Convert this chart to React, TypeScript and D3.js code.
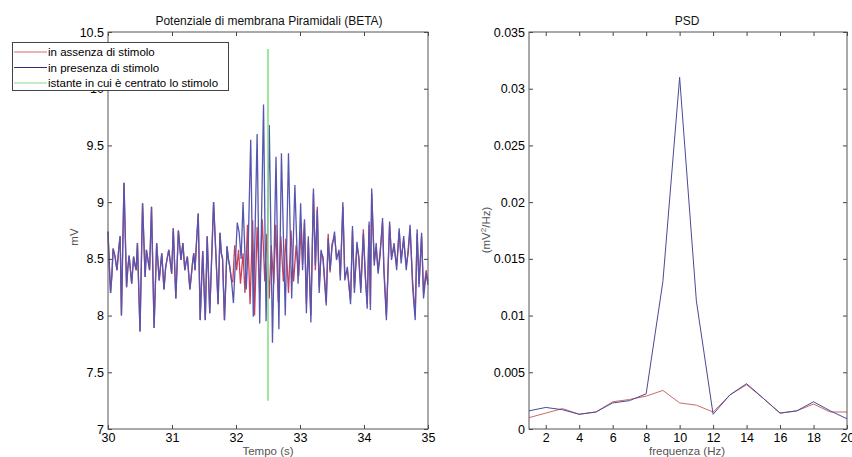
import React, { useRef, useEffect } from 'react';
import * as d3 from 'd3';

// membrane potential, turning points (s, mV)
const tPre = [30.0, 30.02, 30.04, 30.06, 30.08, 30.11, 30.14, 30.17, 30.19, 30.21, 30.25, 30.29, 30.31, 30.33,
  30.37, 30.4, 30.42, 30.44, 30.46, 30.5, 30.54, 30.58, 30.6, 30.63, 30.65, 30.68,
  30.72, 30.76, 30.8, 30.84, 30.875, 30.9, 30.92, 30.95, 30.995, 31.02, 31.06,
  31.1, 31.14, 31.17, 31.2, 31.22, 31.24, 31.28, 31.32, 31.34, 31.36, 31.38, 31.41,
  31.44, 31.48, 31.52, 31.55, 31.59, 31.65, 31.72, 31.75, 31.77, 31.79, 31.82,
  31.86, 31.88, 31.9, 31.93];
const vPre = [8.74, 8.45, 8.2, 8.35, 8.59, 8.52, 8.4, 8.6, 8.7, 8.0, 9.17, 8.25, 8.42, 8.53,
  8.28, 8.52, 8.45, 8.4, 8.64, 7.86, 8.99, 8.34, 8.58, 8.47, 8.4, 8.96,
  7.89, 8.64, 8.31, 8.55, 8.23, 8.42, 8.49, 8.58, 8.37, 8.77, 8.15,
  8.75, 8.49, 8.64, 8.4, 8.47, 8.52, 8.23, 8.46, 8.55, 8.4, 8.62, 8.9,
  7.96, 8.57, 7.96, 8.7, 8.02, 9.0, 8.1, 8.73, 8.55, 8.5, 7.96,
  8.61, 8.5, 8.44, 8.31];

const tBurst = [31.96, 32.02, 32.05, 32.08, 32.11, 32.16, 32.19, 32.23, 32.27, 32.33,
  32.37, 32.43, 32.47, 32.52, 32.57, 32.625, 32.67, 32.71, 32.77, 32.82,
  32.87, 32.92, 32.97, 33.01];
const vBurstStim = [8.11, 8.82, 8.73, 8.5, 9.0, 8.23, 8.6, 9.55, 7.99, 9.6,
  7.93, 9.86, 7.95, 9.68, 7.76, 9.4, 7.88, 9.43, 8.0, 9.43,
  8.15, 9.15, 8.28, 8.99];

const tBurstRest = [31.95, 31.98, 32.01, 32.04, 32.07, 32.11, 32.14, 32.18, 32.22, 32.26,
  32.29, 32.33, 32.37, 32.41, 32.45, 32.48, 32.52, 32.55, 32.59, 32.62,
  32.66, 32.7, 32.74, 32.78, 32.82, 32.86, 32.9, 32.94, 32.98, 33.02];
const vBurstRest = [8.3, 8.62, 8.4, 8.58, 8.28, 8.55, 8.2, 8.8, 8.1, 8.84,
  8.0, 8.78, 8.2, 8.85, 8.3, 8.72, 8.15, 8.62, 8.28, 8.8,
  8.12, 8.7, 8.3, 8.68, 8.2, 8.75, 8.3, 8.62, 8.35, 8.8];

const tPost = [33.04, 33.07, 33.1, 33.13, 33.17, 33.21, 33.24, 33.27, 33.3, 33.33,
  33.36, 33.41, 33.44, 33.47, 33.5, 33.54, 33.57, 33.61, 33.63, 33.67,
  33.7, 33.74, 33.79, 33.82, 33.85, 33.89, 33.92, 33.95, 33.99, 34.02,
  34.05, 34.08, 34.1, 34.12, 34.16, 34.19, 34.22, 34.25, 34.29, 34.31,
  34.35, 34.4, 34.43, 34.47, 34.51, 34.55, 34.58, 34.62, 34.66, 34.69,
  34.72, 34.76, 34.8, 34.83, 34.86, 34.9, 34.93, 34.97, 35.0];
const vPostStim = [8.4, 8.85, 8.02, 8.7, 7.94, 9.12, 8.44, 8.93, 8.2, 8.58,
  8.49, 8.09, 8.68, 8.4, 8.6, 8.74, 8.49, 8.58, 8.31, 9.0,
  8.31, 8.43, 8.1, 8.79, 8.2, 8.65, 8.49, 8.2, 8.72, 8.37,
  8.06, 8.83, 8.05, 9.12, 8.44, 8.64, 8.37, 8.52, 8.86, 8.4,
  7.96, 8.83, 8.49, 8.64, 8.4, 8.77, 8.46, 8.7, 8.4, 8.58,
  8.8, 8.25, 7.96, 8.76, 8.25, 8.73, 8.15, 8.37, 8.27];
const vPostRest = [8.45, 8.82, 8.1, 8.66, 8.0, 9.08, 8.4, 8.96, 8.25, 8.55,
  8.52, 8.12, 8.72, 8.38, 8.63, 8.7, 8.52, 8.55, 8.35, 8.96,
  8.35, 8.4, 8.14, 8.75, 8.24, 8.62, 8.52, 8.24, 8.76, 8.34,
  8.1, 8.8, 8.1, 9.08, 8.48, 8.6, 8.4, 8.55, 8.82, 8.44,
  8.0, 8.8, 8.52, 8.6, 8.44, 8.74, 8.5, 8.66, 8.44, 8.55,
  8.76, 8.3, 8.0, 8.72, 8.28, 8.7, 8.2, 8.4, 8.3];

const stimTime = 32.5;
const stimRange = [7.25, 10.35];

// PSD
const freqs = [1, 2, 3, 4, 5, 6, 7, 8, 9, 10, 11, 12, 13, 14, 15, 16, 17, 18, 19, 20];
const psdRest = [0.001, 0.0014, 0.0018, 0.0013, 0.0015, 0.0024, 0.0026, 0.0029, 0.0034, 0.0023,
  0.0021, 0.0015, 0.003, 0.0039, 0.0027, 0.0014, 0.0016, 0.0022, 0.0015, 0.0015];
const psdStim = [0.0016, 0.0019, 0.0017, 0.0013, 0.0015, 0.0023, 0.0025, 0.0031, 0.013, 0.031,
  0.0113, 0.0013, 0.003, 0.004, 0.0027, 0.0014, 0.0016, 0.0024, 0.0016, 0.0009];

const leftYTicks = [7, 7.5, 8, 8.5, 9, 9.5, 10, 10.5];
const leftXTicks = [30, 31, 32, 33, 34, 35];
const rightYTicks = [0, 0.005, 0.01, 0.015, 0.02, 0.025, 0.03, 0.035];
const rightYLabels = ['0', '0.005', '0.01', '0.015', '0.02', '0.025', '0.03', '0.035'];
const rightXTicks = [2, 4, 6, 8, 10, 12, 14, 16, 18, 20];

const legendItems = [
  { label: 'in assenza di stimolo', color: '#d06a78' },
  { label: 'in presenza di stimolo', color: '#2c2c78' },
  { label: 'istante in cui è centrato lo stimolo', color: '#86e086' },
];

const FONT = 'Liberation Sans, Arial, Helvetica, sans-serif';
const RED = '#c8405a';
const BLUE = '#5656b0';

const zip = (ts: number[], vs: number[]) => ts.map((t, i) => ({ x: t, y: vs[i] }));

const App = () => {
  const svgRef = useRef<SVGSVGElement | null>(null);

  useEffect(() => {
    const svg = d3.select(svgRef.current);
    svg.selectAll('*').remove();

    const W = 852;
    const H = 457;
    svg.append('rect').attr('width', W).attr('height', H).attr('fill', '#fff');

    const top = 32;
    const bottom = 429;

    const styleAxis = (g: any, showLabels = true) => {
      g.select('.domain').remove();
      g.selectAll('.tick line').attr('stroke', '#444');
      g.selectAll('.tick text')
        .attr('fill', '#000')
        .attr('font-size', 12.5)
        .attr('font-family', FONT)
        .style('display', showLabels ? null : 'none');
    };

    const drawFrame = (x: any, y: any, xTicks: number[], yTicks: number[], yFmt: (d: any, i: number) => string) => {
      const [x0, x1] = x.range();
      const gB = svg.append('g').attr('transform', `translate(0,${bottom})`)
        .call(d3.axisBottom(x).tickValues(xTicks).tickSize(-4).tickPadding(4).tickFormat((d: any) => String(d)));
      styleAxis(gB);
      const gT = svg.append('g').attr('transform', `translate(0,${top})`)
        .call(d3.axisTop(x).tickValues(xTicks).tickSize(-4));
      styleAxis(gT, false);
      const gL = svg.append('g').attr('transform', `translate(${x0},0)`)
        .call(d3.axisLeft(y).tickValues(yTicks).tickSize(-4).tickPadding(4).tickFormat(yFmt as any));
      styleAxis(gL);
      const gR = svg.append('g').attr('transform', `translate(${x1},0)`)
        .call(d3.axisRight(y).tickValues(yTicks).tickSize(-4));
      styleAxis(gR, false);
      svg.append('rect')
        .attr('x', x0).attr('y', top)
        .attr('width', x1 - x0).attr('height', bottom - top)
        .attr('fill', 'none').attr('stroke', '#555').attr('stroke-width', 1);
    };

    // ---- left: membrane potential ----
    const xL = d3.scaleLinear().domain([30, 35]).range([108, 428]);
    const yL = d3.scaleLinear().domain([7, 10.5]).range([bottom, top]);

    const lineL = d3.line<{ x: number; y: number }>()
      .x((d) => xL(d.x))
      .y((d) => yL(d.y));

    const restData = [...zip(tPre, vPre), ...zip(tBurstRest, vBurstRest), ...zip(tPost, vPostRest)];
    const stimData = [...zip(tPre, vPre), ...zip(tBurst, vBurstStim), ...zip(tPost, vPostStim)];

    svg.append('path').datum(restData)
      .attr('fill', 'none').attr('stroke', RED).attr('stroke-width', 1.3)
      .attr('d', lineL);
    svg.append('path').datum(stimData)
      .attr('fill', 'none').attr('stroke', BLUE).attr('stroke-width', 1.3)
      .attr('d', lineL);

    svg.append('line')
      .attr('x1', xL(stimTime)).attr('x2', xL(stimTime))
      .attr('y1', yL(stimRange[0])).attr('y2', yL(stimRange[1]))
      .attr('stroke', '#86e086').attr('stroke-width', 1.6);

    drawFrame(xL, yL, leftXTicks, leftYTicks, (d: any) => String(d));

    svg.append('text').attr('x', 269).attr('y', 25).attr('text-anchor', 'middle')
      .attr('font-family', FONT).attr('font-size', 12).attr('fill', '#111')
      .text('Potenziale di membrana Piramidali (BETA)');
    svg.append('text').attr('x', 268).attr('y', 455).attr('text-anchor', 'middle')
      .attr('font-family', FONT).attr('font-size', 11.5).attr('fill', '#555')
      .text('Tempo (s)');
    svg.append('text').attr('transform', 'translate(78,237) rotate(-90)').attr('text-anchor', 'middle')
      .attr('font-family', FONT).attr('font-size', 11.5).attr('fill', '#555')
      .text('mV');

    // legend
    const lg = svg.append('g');
    lg.append('rect').attr('x', 12.5).attr('y', 42.5).attr('width', 216).attr('height', 48)
      .attr('fill', '#fff').attr('stroke', '#444');
    legendItems.forEach((it, i) => {
      const yy = 52 + i * 15.5;
      lg.append('line').attr('x1', 14).attr('x2', 47).attr('y1', yy).attr('y2', yy)
        .attr('stroke', it.color).attr('stroke-width', 1.2);
      lg.append('text').attr('x', 48).attr('y', yy + 4).attr('font-family', FONT)
        .attr('font-size', 11.5).attr('fill', '#000').text(it.label);
    });

    // ---- right: PSD ----
    const xR = d3.scaleLinear().domain([1, 20]).range([529, 847]);
    const yR = d3.scaleLinear().domain([0, 0.035]).range([bottom, top]);
    const lineR = d3.line<number>()
      .x((_, i) => xR(freqs[i]))
      .y((d) => yR(d));

    svg.append('path').datum(psdRest)
      .attr('fill', 'none').attr('stroke', '#cc6a6a').attr('stroke-width', 1).attr('d', lineR);
    svg.append('path').datum(psdStim)
      .attr('fill', 'none').attr('stroke', '#4a4a96').attr('stroke-width', 1).attr('d', lineR);

    drawFrame(xR, yR, rightXTicks, rightYTicks, (_: any, i: number) => rightYLabels[i]);

    svg.append('text').attr('x', 687).attr('y', 25).attr('text-anchor', 'middle')
      .attr('font-family', FONT).attr('font-size', 12).attr('fill', '#111')
      .text('PSD');
    svg.append('text').attr('x', 687).attr('y', 455).attr('text-anchor', 'middle')
      .attr('font-family', FONT).attr('font-size', 11.5).attr('fill', '#555')
      .text('frequenza (Hz)');
    const yl = svg.append('text').attr('transform', 'translate(490,230) rotate(-90)').attr('text-anchor', 'middle')
      .attr('font-family', FONT).attr('font-size', 11.5).attr('fill', '#555');
    yl.append('tspan').text('(mV');
    yl.append('tspan').attr('dy', -4).attr('font-size', 8).text('2');
    yl.append('tspan').attr('dy', 4).text('/Hz)');
  }, []);

  return (
    <svg
      ref={svgRef}
      width={852}
      height={457}
      style={{ position: 'absolute', left: 0, top: 0, display: 'block' }}
    />
  );
};

export default App;
